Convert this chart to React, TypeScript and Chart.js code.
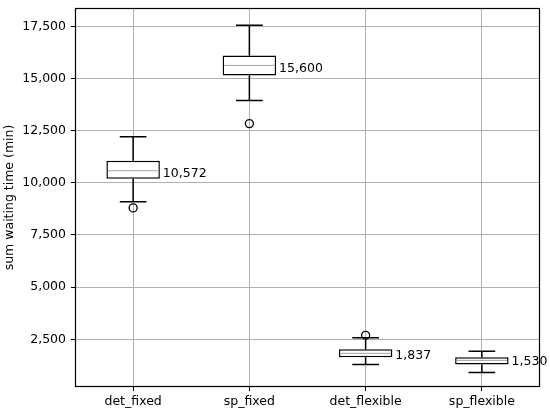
import React, { useEffect, useRef } from "react";
import { Chart, registerables } from "chart.js";

Chart.register(...registerables);

const categories = ["det_fixed", "sp_fixed", "det_flexible", "sp_flexible"];
const whiskerLow = [9087, 13942, 1298, 913];
const q1 = [10192, 15144, 1635, 1298];
const medians = [10577, 15625, 1827, 1490];
const q3 = [11058, 16106, 2019, 1635];
const whiskerHigh = [12212, 17550, 2578, 1923];
const outliers: number[][] = [[8798], [12837], [2692], []];
const medianLabels = [10572, 15600, 1837, 1530];
const yTicks = [2500, 5000, 7500, 10000, 12500, 15000, 17500];
const yMin = 214;
const yMax = 18377;

const FONT = "DejaVu Sans";

const boxPlugin = {
  id: "boxExtras",
  beforeDatasetsDraw(chart: any) {
    const { ctx, chartArea } = chart;
    ctx.save();
    ctx.strokeStyle = "#000";
    ctx.lineWidth = 1.2;
    ctx.strokeRect(
      Math.round(chartArea.left) + 0.5,
      Math.round(chartArea.top) + 0.5,
      Math.round(chartArea.right - chartArea.left) - 1,
      Math.round(chartArea.bottom - chartArea.top) - 1
    );
    ctx.restore();
  },
  afterDatasetsDraw(chart: any) {
    const { ctx } = chart;
    const xs = chart.scales.x;
    const ys = chart.scales.y;
    const meta = chart.getDatasetMeta(0);
    ctx.save();
    categories.forEach((c, i) => {
      const bar = meta.data[i];
      const cx = xs.getPixelForValue(i);
      const half = bar.width / 2;
      const cap = half / 2;
      const yq1 = ys.getPixelForValue(q1[i]);
      const yq3 = ys.getPixelForValue(q3[i]);
      const ylo = ys.getPixelForValue(whiskerLow[i]);
      const yhi = ys.getPixelForValue(whiskerHigh[i]);
      const ymed = ys.getPixelForValue(medians[i]);
      ctx.strokeStyle = "#000";
      ctx.lineWidth = 1.5;
      ctx.beginPath();
      ctx.moveTo(cx, yq3);
      ctx.lineTo(cx, yhi);
      ctx.moveTo(cx - cap, yhi);
      ctx.lineTo(cx + cap, yhi);
      ctx.moveTo(cx, yq1);
      ctx.lineTo(cx, ylo);
      ctx.moveTo(cx - cap, ylo);
      ctx.lineTo(cx + cap, ylo);
      ctx.stroke();
      ctx.strokeStyle = "#a0a0a0";
      ctx.lineWidth = 1;
      ctx.beginPath();
      ctx.moveTo(cx - half + 1.5, ymed);
      ctx.lineTo(cx + half - 1.5, ymed);
      ctx.stroke();
      ctx.fillStyle = "#000";
      ctx.font = `12.5px "${FONT}"`;
      ctx.textAlign = "left";
      ctx.textBaseline = "middle";
      ctx.fillText(
        medianLabels[i].toLocaleString("en-US"),
        cx + half + 3,
        ys.getPixelForValue(medianLabels[i]) + 2.5
      );
    });
    ctx.restore();
  },
};

export default function App() {
  const ref = useRef<HTMLCanvasElement | null>(null);
  useEffect(() => {
    document.body.style.margin = "0";
    if (!ref.current) return;
    const outlierPoints = outliers.flatMap((arr, i) =>
      arr.map((v) => ({ x: categories[i], y: v }))
    );
    const chart = new Chart(ref.current, {
      type: "bar",
      data: {
        labels: categories,
        datasets: [
          {
            type: "bar",
            data: categories.map((_, i) => [q1[i], q3[i]]) as any,
            backgroundColor: "#ffffff",
            borderColor: "#000000",
            borderWidth: 1.5,
            borderSkipped: false,
            barPercentage: 0.46,
            categoryPercentage: 1,
            order: 2,
          } as any,
          {
            type: "line",
            data: outlierPoints as any,
            showLine: false,
            pointRadius: 4,
            pointBackgroundColor: "rgba(0,0,0,0)",
            pointBorderColor: "#000",
            pointBorderWidth: 1.3,
            order: 1,
          } as any,
        ],
      },
      options: {
        responsive: false,
        animation: false,
        layout: { padding: { top: 8, right: 10, left: 0, bottom: 0 } },
        plugins: { legend: { display: false }, tooltip: { enabled: false } },
        scales: {
          x: {
            offset: true,
            grid: {
              offset: false,
              color: "#b0b0b0",
              lineWidth: 1,
              tickColor: "#000",
              tickLength: 4,
              drawOnChartArea: true,
            },
            border: { display: false },
            ticks: {
              color: "#000",
              font: { family: FONT, size: 12.5 },
              padding: 3,
              maxRotation: 0,
            },
            afterFit(axis: any) {
              axis.height = 27;
              axis.paddingLeft = 0;
              axis.paddingRight = 0;
            },
          },
          y: {
            min: yMin,
            max: yMax,
            grid: {
              color: "#b0b0b0",
              lineWidth: 1,
              tickColor: "#000",
              tickLength: 4,
            },
            border: { display: false },
            ticks: {
              color: "#000",
              font: { family: FONT, size: 12.5 },
              padding: 5,
              callback: (v: any) => Number(v).toLocaleString("en-US"),
            },
            afterBuildTicks(axis: any) {
              axis.ticks = yTicks.map((v) => ({ value: v }));
            },
            afterFit(axis: any) {
              axis.width = 75;
              axis.paddingTop = 0;
              axis.paddingBottom = 0;
            },
            title: {
              display: true,
              text: "sum waiting time (min)",
              color: "#000",
              font: { family: FONT, size: 12.5 },
              padding: { top: 2, bottom: 2 },
            },
          },
        },
      },
      plugins: [boxPlugin],
    });
    return () => chart.destroy();
  }, []);
  return (
    <div style={{ width: 550, height: 414, background: "#fff" }}>
      <canvas ref={ref} width={550} height={414} style={{ display: "block" }} />
    </div>
  );
}
